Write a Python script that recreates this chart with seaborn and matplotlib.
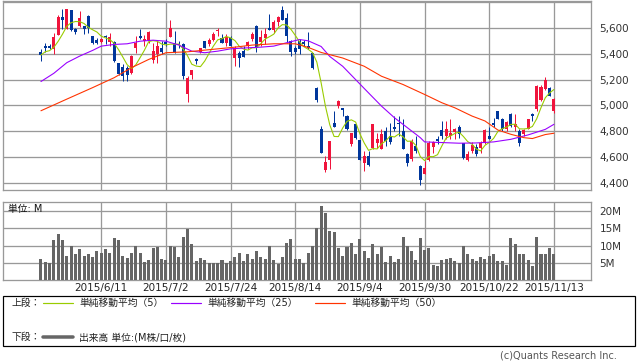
import numpy as np
import pandas as pd
import matplotlib
matplotlib.use("Agg")
import matplotlib.pyplot as plt
from matplotlib.lines import Line2D
from matplotlib.patches import Rectangle
import seaborn as sns

# daily candles, 2015/5/22 - 2015/11/13 (trading day index 0..119)
opens = [5415, 5459, 5459, 5438, 5544, 5682, 5592, 5736, 5595, 5618,
         5613, 5695, 5536, 5510, 5490, 5536, 5490, 5490, 5326, 5300,
         5287, 5249, 5446, 5536, 5495, 5510, 5351, 5395, 5446, 5490,
         5531, 5485, 5477, 5472, 5087, 5233, 5356, 5415, 5497, 5477,
         5510, 5574, 5523, 5485, 5523, 5369, 5408, 5420, 5459, 5515,
         5613, 5492, 5523, 5597, 5582, 5646, 5741, 5677, 5497, 5446,
         5497, 5490, 5459, 5403, 5138, 4815, 4503, 4579, 4862, 4995,
         4982, 4918, 4700, 4854, 4733, 4554, 4610, 4674, 4708, 4662,
         4803, 4764, 4836, 4867, 4803, 4623, 4585, 4687, 4533, 4469,
         4579, 4682, 4738, 4810, 4764, 4764, 4795, 4836, 4708, 4579,
         4649, 4682, 4674, 4708, 4764, 4862, 4956, 4892, 4821, 4931,
         4836, 4803, 4777, 4821, 4931, 4970, 5046, 5128, 5136, 4954]
highs = [5433, 5482, 5472, 5562, 5703, 5746, 5746, 5741, 5600, 5733,
         5618, 5700, 5541, 5520, 5520, 5546, 5562, 5497, 5330, 5318,
         5305, 5387, 5541, 5592, 5544, 5574, 5485, 5497, 5497, 5515,
         5659, 5574, 5497, 5485, 5228, 5272, 5369, 5446, 5497, 5523,
         5567, 5600, 5549, 5549, 5536, 5459, 5420, 5459, 5497, 5567,
         5626, 5587, 5600, 5710, 5659, 5690, 5772, 5715, 5510, 5459,
         5515, 5510, 5567, 5408, 5146, 4841, 4610, 4726, 4956, 5046,
         4982, 4930, 4790, 4860, 4733, 4649, 4649, 4854, 4790, 4820,
         4836, 4867, 4918, 4918, 4892, 4631, 4738, 4764, 4538, 4572,
         4726, 4726, 4764, 4880, 4880, 4892, 4828, 4846, 4708, 4649,
         4718, 4700, 4726, 4815, 4836, 4905, 4956, 4905, 4880, 4938,
         4931, 4815, 4821, 4898, 4938, 5160, 5162, 5220, 5144, 5059]
lows = [5344, 5413, 5433, 5400, 5544, 5592, 5592, 5574, 5554, 5610,
        5556, 5562, 5472, 5472, 5485, 5472, 5459, 5336, 5236, 5190,
        5190, 5244, 5408, 5515, 5459, 5485, 5330, 5326, 5395, 5459,
        5531, 5408, 5446, 5203, 5028, 5203, 5318, 5408, 5441, 5459,
        5497, 5536, 5485, 5459, 5459, 5305, 5300, 5377, 5433, 5497,
        5413, 5459, 5472, 5582, 5562, 5613, 5659, 5485, 5382, 5400,
        5395, 5459, 5433, 5280, 5023, 4631, 4487, 4508, 4836, 4982,
        4918, 4810, 4687, 4738, 4579, 4495, 4528, 4662, 4674, 4662,
        4687, 4700, 4800, 4764, 4667, 4528, 4572, 4636, 4387, 4469,
        4572, 4636, 4700, 4738, 4738, 4738, 4738, 4751, 4585, 4572,
        4636, 4610, 4636, 4700, 4738, 4836, 4892, 4800, 4800, 4836,
        4800, 4687, 4764, 4815, 4880, 4960, 5033, 5118, 5072, 4941]
closes = [5390, 5441, 5441, 5528, 5682, 5664, 5746, 5582, 5572, 5677,
          5592, 5600, 5485, 5485, 5515, 5528, 5531, 5344, 5241, 5228,
          5233, 5382, 5485, 5520, 5515, 5567, 5420, 5459, 5415, 5479,
          5600, 5415, 5464, 5228, 5215, 5272, 5344, 5441, 5446, 5510,
          5554, 5587, 5485, 5531, 5459, 5446, 5369, 5377, 5490, 5549,
          5446, 5528, 5554, 5582, 5646, 5685, 5659, 5541, 5413, 5413,
          5433, 5472, 5441, 5287, 5044, 4631, 4564, 4726, 4836, 5038,
          4964, 4821, 4785, 4751, 4579, 4610, 4538, 4854, 4738, 4777,
          4726, 4718, 4821, 4854, 4667, 4554, 4726, 4649, 4426, 4513,
          4713, 4718, 4726, 4764, 4821, 4790, 4815, 4777, 4597, 4623,
          4692, 4623, 4708, 4810, 4738, 4846, 4892, 4815, 4872, 4841,
          4854, 4713, 4810, 4892, 4918, 5150, 5144, 5195, 5077, 5051]

# volume, millions
volume = [6.2, 5.1, 4.8, 11.5, 13.3, 11.5, 7.1, 10.0, 7.4, 9.1,
          7.1, 7.6, 6.8, 8.5, 7.9, 9.1, 7.9, 12.1, 11.5, 7.1,
          6.5, 7.9, 10.0, 7.9, 5.3, 5.9, 9.4, 9.7, 6.2, 5.9,
          10.0, 9.7, 6.8, 12.4, 14.7, 10.3, 5.6, 6.5, 5.9, 5.0,
          5.0, 5.0, 5.9, 5.0, 5.6, 6.8, 7.9, 5.6, 7.4, 6.2,
          8.5, 6.8, 6.2, 10.0, 5.9, 4.7, 6.8, 10.6, 11.8, 6.2,
          6.2, 5.0, 7.9, 10.0, 15.0, 21.5, 19.4, 14.1, 13.8, 9.4,
          7.1, 9.7, 10.6, 7.4, 11.8, 8.5, 6.5, 10.3, 7.6, 9.7,
          5.3, 7.1, 5.3, 6.2, 12.6, 10.0, 8.5, 5.9, 12.1, 8.8,
          9.4, 4.4, 4.1, 5.9, 6.2, 6.5, 5.6, 5.0, 10.0, 7.4,
          6.2, 5.6, 6.8, 6.2, 7.1, 7.4, 5.6, 5.6, 4.4, 12.1,
          10.3, 7.6, 7.4, 5.9, 4.1, 12.6, 7.6, 7.6, 9.4, 7.6]

# moving averages (day index, value)
ma25_day = [0, 3, 6, 9, 12, 14, 17, 20, 23, 26, 29, 32, 35, 38, 41, 44, 48, 51,
            54, 57, 60, 62, 65, 67, 70, 73, 76, 79, 82, 85, 88, 89, 93, 97,
            101, 105, 109, 113, 117, 119]
ma25_val = [5185, 5249, 5331, 5382, 5426, 5459, 5472, 5477, 5497, 5505, 5497,
            5467, 5420, 5408, 5420, 5438, 5446, 5451, 5459, 5485, 5510, 5500,
            5456, 5379, 5303, 5200, 5097, 4995, 4905, 4828, 4751, 4718, 4713,
            4708, 4710, 4718, 4738, 4772, 4815, 4854]
ma50_day = [0, 6, 12, 17, 21, 25, 29, 34, 38, 45, 49, 54, 59, 62, 65, 70, 75,
            79, 84, 89, 93, 96, 100, 103, 106, 109, 112, 114, 117, 119]
ma50_val = [4959, 5049, 5138, 5215, 5292, 5356, 5408, 5415, 5428, 5451, 5467,
            5477, 5477, 5449, 5410, 5367, 5303, 5226, 5162, 5085, 5021, 4982,
            4918, 4880, 4810, 4777, 4751, 4744, 4775, 4785]

tick_days = [14, 29, 44, 59, 74, 89, 104, 119]
tick_labels = ["2015/6/11", "2015/7/2", "2015/7/24", "2015/8/14",
               "2015/9/4", "2015/9/30", "2015/10/22", "2015/11/13"]

sns.set_style("white")
plt.rcParams['font.family'] = ['DejaVu Sans', 'Noto Sans CJK JP']

W, H = 638, 362
px = 72 / 100  # one pixel in points


def fy(y):
    return 1 - y / H


fig = plt.figure(figsize=(W / 100, H / 100), dpi=100)
ax = fig.add_axes([3 / W, fy(190), 588 / W, 189 / H])
axv = fig.add_axes([3 / W, fy(280), 588 / W, 78.3 / H])

df = pd.DataFrame({"day": np.arange(len(closes)), "o": opens, "h": highs,
                   "l": lows, "c": closes, "vol": volume})
df["ma5"] = df["c"].rolling(5, min_periods=1).mean()
red, blue = "#f0143c", "#00369b"
cols = np.where(df["c"] >= df["o"], red, blue)

# candles
ax.vlines(df["day"], df["l"], df["h"], color=cols, linewidth=px, zorder=3)
body = np.maximum((df["c"] - df["o"]).abs(), 6)
ax.bar(df["day"], body, bottom=np.minimum(df["o"], df["c"]), width=0.7,
       color=cols, linewidth=0, zorder=4)

# moving averages
sns.lineplot(x=df["day"], y=df["ma5"], ax=ax, color="#99cc00", linewidth=1.1 * px, zorder=5)
sns.lineplot(x=ma25_day, y=ma25_val, ax=ax, color="#9900ff", linewidth=1.1 * px, zorder=5)
sns.lineplot(x=ma50_day, y=ma50_val, ax=ax, color="#ff3300", linewidth=1.1 * px, zorder=5)

xmin, xmax = -8.8, 127.6
ax.set_xlim(xmin, xmax)
ax.set_ylim(4346, 5808)
ax.set_xticks(tick_days)
ax.set_xticklabels([])
ax.set_yticks(range(4400, 5801, 200))
ax.set_yticklabels([f"{v:,}" if v < 5800 else "" for v in range(4400, 5801, 200)])
ax.yaxis.tick_right()
ax.tick_params(length=0, labelsize=7.5, labelcolor="#333333", pad=6)
ax.grid(True, color="#999999", linewidth=1.3 * px)
ax.set_axisbelow(True)
ax.set_xlabel("")
ax.set_ylabel("")

# volume
sns.barplot(data=df, x="day", y="vol", native_scale=True, color="#666666",
            saturation=1, width=0.7, linewidth=0, ax=axv, zorder=3)
axv.set_xlim(xmin, xmax)
axv.set_ylim(0, 22.7)
axv.set_xticks(tick_days)
axv.set_xticklabels(tick_labels)
axv.set_yticks([5, 10, 15, 20])
axv.set_yticklabels(["5M", "10M", "15M", "20M"])
axv.yaxis.tick_right()
axv.tick_params(length=0, labelsize=7.5, labelcolor="#333333", pad=6)
axv.tick_params(axis="x", pad=2, labelcolor="#222222")
axv.grid(True, color="#999999", linewidth=1.3 * px)
axv.set_axisbelow(True)
axv.set_xlabel("")
axv.set_ylabel("")

for a in (ax, axv):
    for s in a.spines.values():
        s.set_color("#999999")
        s.set_linewidth(1.3 * px)

fig.text(8 / W, fy(209), "単位: M", va="center", fontsize=7, color="#111111")

# legend box
fig.add_artist(Rectangle((3 / W, fy(346)), 632 / W, 50 / H, transform=fig.transFigure,
                         fill=False, edgecolor="black", linewidth=1.2 * px))
jp = dict(va="center", fontsize=7, color="#222222")
fig.text(12 / W, fy(303), "上段：", **jp)
fig.text(12 / W, fy(337), "下段：", **jp)
for x0, c, lab in [(43, "#99cc00", "単純移動平均（5）"),
                   (171, "#9900ff", "単純移動平均（25）"),
                   (315, "#ff3300", "単純移動平均（50）")]:
    fig.add_artist(Line2D([x0 / W, (x0 + 30) / W], [fy(303)] * 2, color=c,
                          linewidth=1.2 * px, transform=fig.transFigure))
    fig.text((x0 + 36) / W, fy(303), lab, **jp)
fig.add_artist(Line2D([43 / W, 73 / W], [fy(337)] * 2, color="#666666",
                      linewidth=3.5 * px, transform=fig.transFigure))
fig.text(79 / W, fy(337), "出来高 単位:(M株/口/枚)", **jp)

fig.text(617 / W, fy(356), "(c)Quants Research Inc.", ha="right", va="center",
         fontsize=7, color="#555555")

fig.savefig("out.png", dpi=100)
